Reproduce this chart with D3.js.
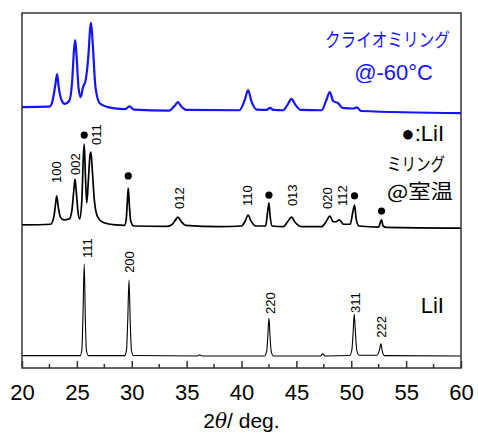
<!DOCTYPE html>
<html>
<head>
<meta charset="utf-8">
<script src="https://cdn.jsdelivr.net/npm/d3@7"></script>
<style>
  body { margin: 0; background: #fff; }
  text { font-family: 'Liberation Sans', Arial, sans-serif; }
  .jp { font-family: 'Noto Sans CJK JP', sans-serif; }
</style>
</head>
<body>
<div class="xrd"></div>
<script>
// 2theta (deg), intensity (a.u., traces already offset)
const cryoMilled = [
    [20, 735], [22.5, 736], [22.8, 755], [23.05, 800], [23.2, 828], [23.35, 790], [23.6, 755],
    [23.9, 744], [24.3, 752], [24.55, 800], [24.75, 900], [24.85, 924], [24.97, 880], [25.15, 790],
    [25.35, 763], [25.55, 790], [25.8, 811], [26.05, 880], [26.22, 960], [26.3, 972], [26.45, 910],
    [26.7, 790], [27.1, 745], [27.8, 735], [29.4, 729], [29.8, 737], [30.2, 728], [33.4, 725],
    [33.9, 738], [34.2, 749], [34.5, 737], [35, 727], [39.8, 726], [40.3, 755], [40.6, 783],
    [40.9, 752], [41.4, 728], [42.3, 727], [42.6, 733], [42.9, 727], [43.8, 726], [44.2, 742],
    [44.55, 758], [44.9, 742], [45.4, 727], [47.3, 726], [47.7, 752], [48.05, 777], [48.35, 752],
    [48.8, 746], [49.2, 733], [50.2, 731], [50.5, 734], [50.9, 724], [60, 718]
];
const rtMilled = [
    [20, 403], [22.6, 405], [22.9, 425], [23.05, 460], [23.16, 485], [23.3, 455], [23.5, 425],
    [23.8, 417], [24.3, 420], [24.55, 445], [24.72, 500], [24.83, 532], [24.95, 495], [25.1, 440],
    [25.25, 420], [25.45, 470], [25.58, 590], [25.67, 631], [25.78, 540], [25.9, 465], [26.05, 530],
    [26.2, 600], [26.28, 608], [26.4, 560], [26.6, 470], [26.9, 425], [27.4, 410], [28.5, 403],
    [29.35, 402], [29.5, 420], [29.6, 470], [29.68, 507], [29.78, 460], [29.9, 415], [30.2, 400],
    [33.2, 399], [33.7, 405], [34.0, 418], [34.2, 425], [34.5, 413], [34.9, 402], [38, 398],
    [40.0, 400], [40.35, 415], [40.6, 431], [40.85, 415], [41.3, 400], [42.2, 400], [42.38, 440],
    [42.5, 465], [42.6, 430], [42.8, 400], [43.8, 398], [44.2, 412], [44.55, 425], [44.9, 410],
    [45.5, 398], [47.3, 398], [47.7, 412], [48.05, 428], [48.35, 412], [48.6, 412], [48.9, 417],
    [49.3, 405], [49.9, 405], [50.15, 440], [50.3, 459], [50.45, 420], [50.7, 400], [52.5, 397],
    [52.65, 410], [52.76, 417], [52.9, 400], [53.2, 396], [60, 394]
];
const lii = [
    [20, 35], [25.3, 35], [25.45, 50], [25.55, 140], [25.67, 293], [25.77, 140], [25.87, 50],
    [26.05, 35], [29.35, 35], [29.52, 50], [29.63, 130], [29.75, 248], [29.86, 130], [29.97, 50],
    [30.15, 35], [36.0, 34], [36.2, 37], [36.4, 34], [42.1, 34], [42.3, 48], [42.4, 90],
    [42.5, 141], [42.6, 90], [42.7, 48], [42.9, 34], [47.2, 34], [47.4, 40], [47.6, 34],
    [49.85, 35], [50.05, 50], [50.17, 100], [50.27, 152], [50.38, 100], [50.5, 50], [50.7, 36],
    [52.35, 36], [52.55, 48], [52.7, 68], [52.82, 48], [53.0, 35], [60, 34]
];
// hkl labels: text, 2theta, level (a.u.)
const rtLabels = [
    ['100', 23.16, 521], ['002', 24.83, 544], ['011', 26.8, 628], ['012', 34.3, 448],
    ['110', 40.5, 456], ['013', 44.6, 456], ['020', 47.8, 448], ['112', 49.15, 456]
];
const liiLabels = [
    ['111', 25.95, 310], ['200', 29.75, 268], ['220', 42.6, 152], ['311', 50.33, 155], ['222', 52.76, 85]
];
// LiI marks on the room-temperature pattern
const liiDots = [[25.67, 656], [29.68, 541], [42.5, 487], [50.3, 485], [52.76, 442]];
const xTicks = [20, 25, 30, 35, 40, 45, 50, 55, 60];
const xMinor = [22.5, 27.5, 32.5, 37.5, 42.5, 47.5, 52.5, 57.5];

const margin = {top: 13, right: 17, bottom: 67, left: 22};
const width = 478 - margin.left - margin.right;
const height = 435 - margin.top - margin.bottom;

const x = d3.scaleLinear().domain([20, 60]).range([0, width]);
const y = d3.scaleLinear().domain([0, 1000]).range([height, 0]);

const line = d3.line()
    .x(function(d) { return x(d[0]); })
    .y(function(d) { return y(d[1]); })
    .curve(d3.curveMonotoneX);

const svg = d3.select('.xrd').append('svg')
    .attr('width', 478)
    .attr('height', 435)
    .append('g')
    .attr('transform', 'translate(' + margin.left + ',' + margin.top + ')');

svg.append('path').datum(cryoMilled)
    .attr('d', line).attr('fill', 'none').attr('stroke', '#1414ff').attr('stroke-width', 2.2);
svg.append('path').datum(rtMilled)
    .attr('d', line).attr('fill', 'none').attr('stroke', '#000').attr('stroke-width', 1.7);
svg.append('path').datum(lii)
    .attr('d', line).attr('fill', 'none').attr('stroke', '#000').attr('stroke-width', 1.1);

// frame
svg.append('rect')
    .attr('width', width).attr('height', height)
    .attr('fill', 'none').attr('stroke', '#333').attr('stroke-width', 1.5);

// x axis with inward ticks
const xAxis = d3.axisBottom(x).tickValues(xTicks).tickSize(-7).tickPadding(16);
const gx = svg.append('g')
    .attr('transform', 'translate(0,' + height + ')')
    .call(xAxis);
gx.select('.domain').remove();
gx.selectAll('.tick line').attr('stroke', '#333').attr('stroke-width', 1.5);
gx.selectAll('.tick text')
    .attr('font-size', 22)
    .attr('font-family', "'Liberation Sans', Arial, sans-serif")
    .attr('fill', '#000');
gx.selectAll('.minor')
    .data(xMinor)
    .enter().append('line')
    .attr('x1', function(d) { return x(d); })
    .attr('x2', function(d) { return x(d); })
    .attr('y1', 0).attr('y2', -4)
    .attr('stroke', '#333').attr('stroke-width', 1.5);

const title = svg.append('text')
    .attr('x', width / 2).attr('y', height + 60)
    .attr('text-anchor', 'middle')
    .attr('font-size', 21);
title.append('tspan').text('2');
title.append('tspan').attr('font-style', 'italic').attr('font-family', "'DejaVu Serif', serif").attr('font-size', 20).text('θ');
title.append('tspan').text('/ deg.');

// hkl labels
function hkl(data) {
    svg.selectAll(null)
        .data(data)
        .enter().append('text')
        .attr('transform', function(d) {
            return 'translate(' + x(d[1]) + ',' + y(d[2]) + ') rotate(-90)';
        })
        .attr('dy', '0.36em')
        .attr('font-size', 13)
        .text(function(d) { return d[0]; });
}
hkl(rtLabels);
hkl(liiLabels);

svg.selectAll('.dot')
    .data(liiDots)
    .enter().append('circle')
    .attr('cx', function(d) { return x(d[0]); })
    .attr('cy', function(d) { return y(d[1]); })
    .attr('r', 3.6)
    .attr('fill', '#000');

// sample labels
svg.append('text').attr('class', 'jp')
    .attr('x', 428).attr('y', 34)
    .attr('text-anchor', 'end').attr('font-size', 19).attr('fill', '#1414ff')
    .attr('textLength', 125).attr('lengthAdjust', 'spacingAndGlyphs')
    .text('クライオミリング');
svg.append('text')
    .attr('x', 411).attr('y', 67)
    .attr('text-anchor', 'end').attr('font-size', 22).attr('fill', '#1414ff')
    .text('@-60°C');
svg.append('text')
    .attr('x', 422).attr('y', 128)
    .attr('text-anchor', 'end').attr('font-size', 22)
    .text('●:LiI');
svg.append('text').attr('class', 'jp')
    .attr('x', 423).attr('y', 158)
    .attr('text-anchor', 'end').attr('font-size', 18)
    .attr('textLength', 58).attr('lengthAdjust', 'spacingAndGlyphs')
    .text('ミリング');
svg.append('text').attr('class', 'jp')
    .attr('x', 431).attr('y', 186)
    .attr('text-anchor', 'end').attr('font-size', 20)
    .attr('textLength', 66).attr('lengthAdjust', 'spacingAndGlyphs')
    .text('@室温');
svg.append('text')
    .attr('x', 422).attr('y', 300)
    .attr('text-anchor', 'end').attr('font-size', 22)
    .text('LiI');
</script>
</body>
</html>
